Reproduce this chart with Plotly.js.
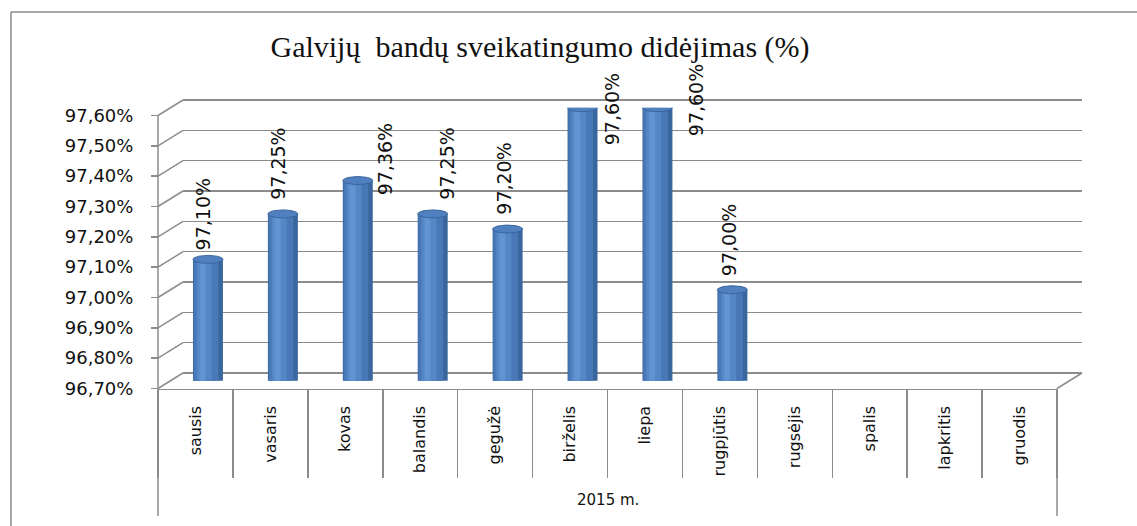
<!DOCTYPE html>
<html><head><meta charset="utf-8">
<script src="https://cdn.plot.ly/plotly-3.0.1.min.js"></script>
<style>html,body{margin:0;padding:0;background:#fff;} #chart{width:1137px;height:526px;}</style>
</head><body><div id="chart"></div>
<script>
// ---------- data ----------
const TITLE = 'Galvijų  bandų sveikatingumo didėjimas (%)';
const MONTHS = ['sausis','vasaris','kovas','balandis','gegužė','birželis','liepa','rugpjūtis','rugsėjis','spalis','lapkritis','gruodis'];
const VALUES = [97.10, 97.25, 97.36, 97.25, 97.20, 97.60, 97.60, 97.00, null, null, null, null];
const Y_TICKS = [96.7, 96.8, 96.9, 97.0, 97.1, 97.2, 97.3, 97.4, 97.5, 97.6];
const YEAR_LABEL = '2015 m.';

// ---------- style / placement ----------
const LABEL_SHIFT = [[-5,7],[-5,12],[27,-17],[14,12],[-4,12],[29,-40],[38,-30],[-4,12]]; // px offsets of value labels
const W = 1137, H = 526;
const fx = p => p / W, fy = p => 1 - p / H;
const Y_MIN = Y_TICKS[0], Y_MAX = Y_TICKS[Y_TICKS.length - 1];
const FRONT = {x0: 158, x1: 1057, yBot: 388.5, yTop: 115.5};
const DEPTH = {dx: 25, dy: 15.5};
const PAD = 0.1;
const PXU = (FRONT.yBot - FRONT.yTop) / (Y_MAX - Y_MIN);
const yDom = (bot, top, pad) => [fy(bot + pad * PXU), fy(top - pad * PXU)];
const GRID = '#8c8c8c';
const FONT = 'DejaVu Sans';
const IDX = MONTHS.map((m, i) => i);
const BOUNDS = IDX.map(i => i - 0.5).concat([MONTHS.length - 0.5]);
const fmt = v => v.toFixed(2).replace('.', ',') + '%';

const data = [];
const dummy = (xa, ya) => ({type: 'scatter', x: [null], y: [null], xaxis: xa, yaxis: ya, hoverinfo: 'skip', showlegend: false});
// back wall subplot (grid only)
data.push(dummy('x', 'y'));

// cylinder bodies: layered bars for shading
const layers = [
  {w: 0.40, off: -0.20, c: '#3A669E'},
  {w: 0.33, off: -0.19, c: '#4878B6'},
  {w: 0.20, off: -0.15, c: '#5586C6'},
  {w: 0.08, off: -0.11, c: '#6394D2'}
];
layers.forEach(L => data.push({
  type: 'bar', x: IDX, y: VALUES, xaxis: 'x2', yaxis: 'y2', width: L.w, offset: L.off,
  marker: {color: L.c, line: {width: 0}}, hoverinfo: 'skip', showlegend: false
}));

// cylinder ends (ellipses)
const EA = 0.20, EB = 4 / PXU, N = 36;
IDX.forEach(i => {
  const v = VALUES[i];
  if (v === null) return;
  const bx = [], by = [], tx = [], ty = [];
  for (let k = 0; k <= N; k++) {
    const t = Math.PI + Math.PI * k / N;
    bx.push(i + EA * Math.cos(t)); by.push(Y_MIN + EB * Math.sin(t));
  }
  for (let k = 0; k <= 2 * N; k++) {
    const t = 2 * Math.PI * k / (2 * N);
    tx.push(i + EA * Math.cos(t)); ty.push(v + EB * Math.sin(t));
  }
  data.push({type: 'scatter', x: bx, y: by, xaxis: 'x2', yaxis: 'y2', mode: 'lines', fill: 'toself',
    fillcolor: '#4575B3', line: {width: 0, color: '#4575B3'}, cliponaxis: false, hoverinfo: 'skip', showlegend: false});
  data.push({type: 'scatter', x: tx, y: ty, xaxis: 'x2', yaxis: 'y2', mode: 'lines', fill: 'toself',
    fillcolor: '#5080BF', line: {width: 1, color: '#3B659C'}, cliponaxis: false, hoverinfo: 'skip', showlegend: false});
});
// front axes subplots
data.push(dummy('x3', 'y3'));
data.push(dummy('x4', 'y3'));

const shapes = [];
// outer frame
shapes.push({type: 'line', xref: 'paper', yref: 'paper', x0: fx(11), x1: fx(11), y0: fy(12), y1: 0, line: {color: '#8a8a8a', width: 1.5}});
shapes.push({type: 'line', xref: 'paper', yref: 'paper', x0: fx(11), x1: 1, y0: fy(12), y1: fy(12), line: {color: '#8a8a8a', width: 1.5}});
// front vertical axis line
shapes.push({type: 'line', xref: 'paper', yref: 'y3', x0: fx(FRONT.x0), x1: fx(FRONT.x0), y0: Y_MIN, y1: Y_MAX, line: {color: GRID, width: 1.5}});
// side-wall diagonals from each front tick to the back wall
Y_TICKS.forEach(v => shapes.push({type: 'line', xref: 'paper', xsizemode: 'pixel', xanchor: fx(FRONT.x0), x0: 0, x1: DEPTH.dx,
  yref: 'y3', ysizemode: 'pixel', yanchor: v, y0: 0, y1: DEPTH.dy, line: {color: GRID, width: 1.5}}));
// floor right edge
shapes.push({type: 'line', xref: 'paper', xsizemode: 'pixel', xanchor: fx(FRONT.x1), x0: 0, x1: DEPTH.dx,
  yref: 'y3', ysizemode: 'pixel', yanchor: Y_MIN, y0: 0, y1: DEPTH.dy, line: {color: GRID, width: 1.5}});
// long outer separators of the category table
[FRONT.x0, FRONT.x1].forEach(xp => shapes.push({type: 'line', xref: 'paper', yref: 'paper', x0: fx(xp), x1: fx(xp),
  y0: fy(FRONT.yBot), y1: fy(516), line: {color: GRID, width: 1.5}}));

const annotations = [];
IDX.forEach(i => {
  const v = VALUES[i];
  if (v === null) return;
  const s = LABEL_SHIFT[i];
  annotations.push({xref: 'x2', yref: 'y2', x: i, y: v, text: fmt(v), textangle: -90, showarrow: false,
    xanchor: 'center', yanchor: 'bottom', xshift: s[0], yshift: s[1], font: {family: FONT, size: 19, color: '#111'}});
});
annotations.push({xref: 'paper', yref: 'paper', x: fx((FRONT.x0 + FRONT.x1) / 2), y: fy(500), text: YEAR_LABEL,
  showarrow: false, xanchor: 'center', yanchor: 'middle', font: {family: FONT, size: 15, color: '#111'}});

const layout = {
  width: W, height: H, margin: {l: 0, r: 0, t: 0, b: 0, pad: 0},
  paper_bgcolor: '#ffffff', plot_bgcolor: 'rgba(0,0,0,0)', showlegend: false,
  barmode: 'overlay',
  title: {text: TITLE, x: fx(540), xanchor: 'center', xref: 'paper', y: fy(46), yanchor: 'middle',
    font: {family: 'Liberation Serif', size: 30, color: '#111'}},
  // back wall
  xaxis: {domain: [fx(FRONT.x0 + DEPTH.dx), fx(FRONT.x1 + DEPTH.dx)], range: [-0.5, 11.5], anchor: 'y',
    showgrid: false, zeroline: false, showline: false, showticklabels: false, ticks: ''},
  yaxis: {domain: yDom(FRONT.yBot - DEPTH.dy, FRONT.yTop - DEPTH.dy, PAD), range: [Y_MIN - PAD, Y_MAX + PAD], anchor: 'x',
    tickmode: 'array', tickvals: Y_TICKS, showgrid: true, gridcolor: GRID, gridwidth: 1.6,
    zeroline: false, showline: false, showticklabels: false, ticks: ''},
  // cylinders (mid depth)
  xaxis2: {domain: [fx(FRONT.x0 + DEPTH.dx / 2), fx(FRONT.x1 + DEPTH.dx / 2)], range: [-0.5, 11.5], anchor: 'y2',
    visible: false},
  yaxis2: {domain: yDom(FRONT.yBot - DEPTH.dy / 2, FRONT.yTop - DEPTH.dy / 2, 0), range: [Y_MIN, Y_MAX], anchor: 'x2',
    visible: false},
  // front floor edge with category separators
  xaxis3: {domain: [fx(FRONT.x0), fx(FRONT.x1)], range: [-0.5, 11.5], anchor: 'free', position: fy(FRONT.yBot),
    tickmode: 'array', tickvals: BOUNDS, ticks: 'outside', ticklen: 88, tickwidth: 1.5, tickcolor: GRID,
    showticklabels: false, showline: true, linecolor: GRID, linewidth: 1.5, showgrid: false, zeroline: false},
  // category labels
  xaxis4: {domain: [fx(FRONT.x0), fx(FRONT.x1)], range: [-0.5, 11.5], anchor: 'free', position: fy(FRONT.yBot),
    tickmode: 'array', tickvals: IDX, ticktext: MONTHS, ticks: 'outside', ticklen: 10, tickcolor: 'rgba(0,0,0,0)',
    tickangle: -90, tickfont: {family: FONT, size: 16, color: '#111'},
    showline: false, showgrid: false, zeroline: false},
  // front value axis
  yaxis3: {domain: yDom(FRONT.yBot, FRONT.yTop, PAD), range: [Y_MIN - PAD, Y_MAX + PAD], anchor: 'free', position: fx(FRONT.x0),
    side: 'left', tickmode: 'array', tickvals: Y_TICKS, ticktext: Y_TICKS.map(fmt),
    ticks: 'outside', ticklen: 7, tickwidth: 1.5, tickcolor: GRID, ticklabelstandoff: 14,
    tickfont: {family: FONT, size: 18, color: '#111'}, showgrid: false, zeroline: false, showline: false},
  shapes: shapes,
  annotations: annotations
};

Plotly.newPlot('chart', data, layout, {displayModeBar: false, staticPlot: true});
</script>
</body></html>
